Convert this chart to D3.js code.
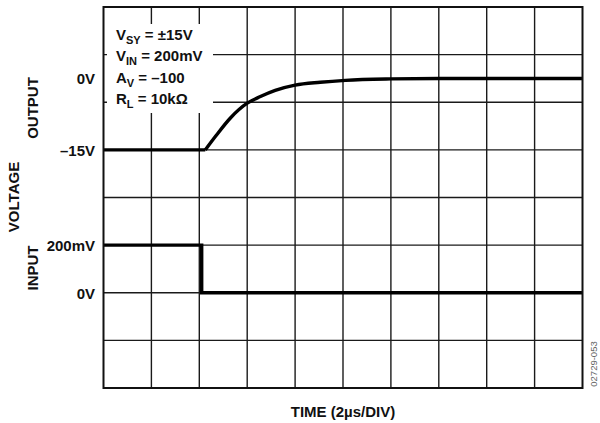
<!DOCTYPE html>
<html>
<head>
<meta charset="utf-8">
<script src="https://cdn.jsdelivr.net/npm/d3@7"></script>
<style>
  html, body { margin: 0; padding: 0; background: #fff; }
  svg { display: block; font-family: "Liberation Sans", Arial, Helvetica, sans-serif; font-weight: bold; }
</style>
</head>
<body>
<svg id="chart" width="600" height="423"></svg>
<script>
// Time axis: 10 divisions at 2 µs/div
const timeDomain = [0, 20];
const timeDivisions = 10;
const voltageDivisions = 8;

// Input step (mV) versus time (µs)
const inputTime = [0, 4.1, 4.1, 20];
const inputMilliVolts = [200, 200, 0, 0];

// Output response (V) versus time (µs)
const outputTime = [0, 4.25, 4.67, 5.3, 6.0, 6.55, 7.17, 8.0, 9.05, 10.1, 12.0, 14.0, 20];
const outputVolts = [-15, -15, -12.2, -8.3, -5.2, -3.8, -2.5, -1.4, -0.8, -0.4, -0.1, 0, 0];
const outputRiseStart = 4.25;

// Left-hand value labels
const outputTicks = [0, -15];
const outputTickLabels = ["0V", "\u201315V"];
const inputTicks = [200, 0];
const inputTickLabels = ["200mV", "0V"];

// Test conditions panel
const conditions = [
  { main: "V", sub: "SY", rest: " = \u00B115V" },
  { main: "V", sub: "IN", rest: " = 200mV" },
  { main: "A", sub: "V", rest: " = \u2013100" },
  { main: "R", sub: "L", rest: " = 10k\u03A9" }
];

const svg = d3.select("#chart");
const plot = { left: 103.5, right: 582.5, top: 7, bottom: 388 };

const x = d3.scaleLinear().domain(timeDomain).range([plot.left, plot.right]);
const grid = d3.scaleLinear().domain([0, voltageDivisions]).range([plot.bottom, plot.top]);
// Output trace: 10 V/div, -15 V sits on division 5
const yOut = d3.scaleLinear().domain([-15, 0]).range([grid(5), grid(6.5)]);
// Input trace: 200 mV/div, 0 V sits on division 2
const yIn = d3.scaleLinear().domain([0, 200]).range([grid(2), grid(3)]);

// Grid
const gridColor = "#1a1a1a";
const gx = d3.range(1, timeDivisions).map(i => timeDomain[0] + i * (timeDomain[1] - timeDomain[0]) / timeDivisions);
svg.append("g").selectAll("line").data(gx).join("line")
  .attr("x1", d => x(d)).attr("x2", d => x(d))
  .attr("y1", plot.top).attr("y2", plot.bottom)
  .attr("stroke", gridColor).attr("stroke-width", 1.4);
svg.append("g").selectAll("line").data(d3.range(1, voltageDivisions)).join("line")
  .attr("x1", plot.left).attr("x2", plot.right)
  .attr("y1", d => grid(d)).attr("y2", d => grid(d))
  .attr("stroke", gridColor).attr("stroke-width", 1.4);

// Test conditions box
const box = svg.append("g");
box.append("rect")
  .attr("x", 107).attr("y", 24).attr("width", 106).attr("height", 89)
  .attr("fill", "#fff");
const condText = box.selectAll("text").data(conditions).join("text")
  .attr("x", 116)
  .attr("y", (d, i) => 40 + i * 21.4)
  .attr("font-size", 15)
  .attr("fill", "#111");
condText.append("tspan").text(d => d.main);
condText.append("tspan").attr("font-size", 11).attr("dy", 4).text(d => d.sub);
condText.append("tspan").attr("dy", -4).text(d => d.rest);

// Traces
const lineIn = d3.line().x(d => x(d[0])).y(d => yIn(d[1]));
svg.append("path")
  .datum(d3.zip(inputTime, inputMilliVolts))
  .attr("d", lineIn)
  .attr("fill", "none").attr("stroke", "#000").attr("stroke-width", 3.4)
  .attr("stroke-linejoin", "miter");

const outPts = d3.zip(outputTime, outputVolts);
const lineOutFlat = d3.line().x(d => x(d[0])).y(d => yOut(d[1]));
const lineOutRise = d3.line().x(d => x(d[0])).y(d => yOut(d[1])).curve(d3.curveMonotoneX);
svg.append("path")
  .datum(outPts.filter(d => d[0] <= outputRiseStart))
  .attr("d", lineOutFlat)
  .attr("fill", "none").attr("stroke", "#000").attr("stroke-width", 3.4);
svg.append("path")
  .datum(outPts.filter(d => d[0] >= outputRiseStart))
  .attr("d", lineOutRise)
  .attr("fill", "none").attr("stroke", "#000").attr("stroke-width", 3.4)
  .attr("stroke-linejoin", "round");

// Frame
svg.append("rect")
  .attr("x", plot.left).attr("y", plot.top)
  .attr("width", plot.right - plot.left).attr("height", plot.bottom - plot.top)
  .attr("fill", "none").attr("stroke", "#111").attr("stroke-width", 2);

// Value labels
const tickLabel = (vals, labels, scale) => svg.append("g").selectAll("text")
  .data(d3.zip(vals, labels)).join("text")
  .attr("x", 95).attr("y", d => scale(d[0]) + 6)
  .attr("text-anchor", "end").attr("font-size", 15).attr("fill", "#111")
  .text(d => d[1]);
tickLabel(outputTicks, outputTickLabels, yOut);
tickLabel(inputTicks, inputTickLabels, yIn);

// Axis titles
const vTitle = (label, cx, cy) => svg.append("text")
  .attr("transform", `translate(${cx},${cy}) rotate(-90)`)
  .attr("text-anchor", "middle").attr("dy", "0.36em")
  .attr("font-size", 15).attr("fill", "#111")
  .text(label);
vTitle("OUTPUT", 33, 108);
vTitle("VOLTAGE", 14, 197);
vTitle("INPUT", 33, 268);

svg.append("text")
  .attr("x", (plot.left + plot.right) / 2).attr("y", 417)
  .attr("text-anchor", "middle").attr("font-size", 15).attr("fill", "#111")
  .text("TIME (2\u00B5s/DIV)");

// Figure number
svg.append("text")
  .attr("transform", "translate(597,364) rotate(-90)")
  .attr("text-anchor", "middle")
  .attr("font-size", 9.5).attr("font-weight", "normal").attr("fill", "#666")
  .text("02729-053");
</script>
</body>
</html>
